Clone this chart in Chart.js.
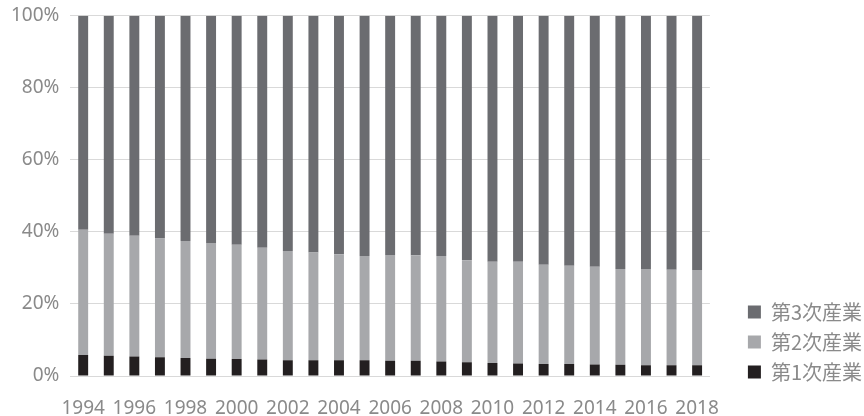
<!DOCTYPE html>
<html>
<head>
<meta charset="utf-8">
<script src="https://cdn.jsdelivr.net/npm/chart.js@4"></script>
<style>
  html, body { margin: 0; padding: 0; background: #fff; }
  #wrap { width: 864px; height: 416px; }
</style>
</head>
<body>
<div id="wrap"><canvas id="chart"></canvas></div>
<script>
// 年次
const years = ['1994','1995','1996','1997','1998','1999','2000','2001','2002','2003','2004','2005','2006',
               '2007','2008','2009','2010','2011','2012','2013','2014','2015','2016','2017','2018'];

// 産業別構成比（%）
const primary   = [5.8,5.6,5.4,5.2,5.0,4.8,4.7,4.6,4.4,4.4,4.4,4.4,4.2,4.2,4.0,3.8,3.6,3.5,3.3,3.3,3.2,3.1,3.0,3.0,3.0];
const secondary = [34.8,33.9,33.5,33.0,32.5,32.1,31.7,31.0,30.3,29.9,29.4,28.9,29.4,29.3,29.3,28.3,28.1,28.2,27.6,27.3,27.1,26.6,26.7,26.5,26.4];
const tertiary  = [59.4,60.5,61.1,61.8,62.5,63.1,63.6,64.4,65.3,65.7,66.2,66.7,66.4,66.5,66.7,67.9,68.3,68.3,69.1,69.4,69.7,70.3,70.3,70.5,70.6];

const yTicks = [0, 20, 40, 60, 80, 100];

const TICK_FONT = '"Noto Sans", "Noto Sans CJK JP", sans-serif';
const LEGEND_FONT = '"Noto Sans CJK JP", "Noto Sans", sans-serif';
const TEXT = '#8a8a8a';

// 凡例の位置を微調整（右へ寄せ、少し上げる）
const legendShift = {
    id: 'legendShift',
    afterLayout(chart) {
        const lg = chart.legend;
        if (!lg) return;
        lg.left += 28;
        lg.right += 28;
        lg.bottom -= 24;
    }
};

const ctx = document.getElementById('chart').getContext('2d');
new Chart(ctx, {
    type: 'bar',
    data: {
        labels: years,
        datasets: [
            { label: '第1次産業', data: primary,   backgroundColor: '#231f20' },
            { label: '第2次産業', data: secondary, backgroundColor: '#a7a8ab' },
            { label: '第3次産業', data: tertiary,  backgroundColor: '#6b6c70' }
        ]
    },
    options: {
        responsive: true,
        maintainAspectRatio: false,
        animation: false,
        layout: {
            padding: { top: 0, right: 20, left: 0, bottom: 0 }
        },
        datasets: {
            bar: {
                categoryPercentage: 0.8,
                barPercentage: 0.485
            }
        },
        scales: {
            x: {
                stacked: true,
                grid: { display: false, drawTicks: false },
                border: { color: '#d9d9d9', width: 1 },
                afterFit: (scale) => { scale.height = 40; },
                ticks: {
                    color: TEXT,
                    font: { family: TICK_FONT, size: 19 },
                    autoSkip: false,
                    maxRotation: 0,
                    padding: 21,
                    callback: function(value, index) {
                        return index % 2 === 0 ? this.getLabelForValue(value) : '';
                    }
                }
            },
            y: {
                stacked: true,
                min: 0,
                max: 100,
                afterBuildTicks: (axis) => {
                    axis.ticks = yTicks.map(v => ({ value: v }));
                },
                grid: { color: '#d9d9d9', lineWidth: 1, drawTicks: false },
                border: { display: false },
                ticks: {
                    color: TEXT,
                    font: { family: TICK_FONT, size: 19, lineHeight: 0.5 },
                    padding: 11,
                    callback: (value) => value + '%'
                }
            }
        },
        plugins: {
            legend: {
                position: 'right',
                align: 'end',
                reverse: true,
                labels: {
                    color: TEXT,
                    font: { family: LEGEND_FONT, size: 20 },
                    boxWidth: 13,
                    boxHeight: 13,
                    padding: 10
                }
            },
            tooltip: { enabled: false }
        }
    },
    plugins: [legendShift]
});
</script>
</body>
</html>
